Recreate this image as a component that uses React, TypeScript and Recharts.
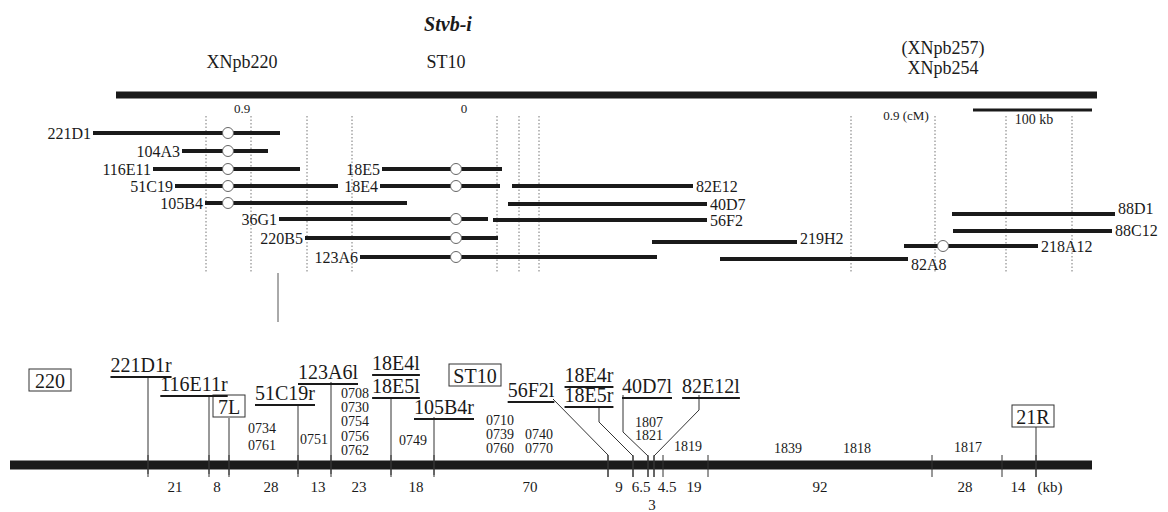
import React from "react";
import { ComposedChart, XAxis, YAxis, ReferenceLine, Scatter } from "recharts";

const W = 1168;
const H = 512;
const FONT = '"Liberation Serif", "Times New Roman", Times, serif';
const INK = "#1a1a1a";

// ---------------- genetic map (top) ----------------
const titleLabel = [{ x: 448, y: 24, label: "Stvb-i" }];
const markerLabels = [
  { x: 242, y: 62, label: "XNpb220" },
  { x: 446, y: 62, label: "ST10" },
  { x: 943, y: 48, label: "(XNpb257)" },
  { x: 943, y: 68, label: "XNpb254" },
];
const chromosome = { x1: 116, x2: 1097, y: 95 };
const cmLabels = [
  { x: 242, y: 108, label: "0.9" },
  { x: 464, y: 108, label: "0" },
  { x: 906, y: 115, label: "0.9 (cM)" },
];
const scaleBar = { x1: 973, x2: 1092, y: 110 };
const scaleLabel = [{ x: 1034, y: 119, label: "100 kb" }];
const dottedX = [206, 251, 307, 352, 497, 519, 539, 851, 935, 1006, 1072];
const dottedSpan = [116, 272];

// BAC clones of the contig
const cloneNames = ["221D1", "104A3", "116E11", "51C19", "105B4", "36G1", "220B5", "123A6", "18E5", "18E4", "82E12", "40D7", "56F2", "219H2", "82A8", "218A12", "88D1", "88C12"];
const cloneY = [133, 151, 169, 186, 203, 219, 238, 257, 169, 186, 186, 204, 220, 242, 259, 246, 214, 231];
const cloneStart = [93, 182, 153, 175, 205, 279, 305, 360, 382, 380, 512, 508, 493, 652, 720, 904, 952, 953];
const cloneEnd = [280, 268, 300, 338, 407, 488, 498, 657, 502, 500, 693, 707, 707, 797, 908, 1038, 1115, 1112];
const cloneSide = ["L", "L", "L", "L", "L", "L", "L", "L", "L", "L", "R", "R", "R", "R", "R", "R", "R", "R"];
const cloneMarker: (number | null)[] = [228, 228, 228, 228, 228, 456, 456, 456, 456, 456, null, null, null, null, null, 943, null, null];

// link between maps
const linkLine = [{ x: 278, y: 273 }, { x: 278, y: 322 }];

// ---------------- physical map (bottom) ----------------
const physBar = { x1: 10, x2: 1092, y: 465 };
const physBoundaries = [148, 209, 229, 298, 331, 391, 434, 608, 633, 648, 654, 663, 708, 932, 1002, 1036];
const kbSizes = ["21", "8", "28", "13", "23", "18", "70", "9", "6.5", "3", "4.5", "19", "92", "28", "14", "(kb)"];
const kbX = [175, 217, 271, 318, 359, 416, 530, 619, 641, 652, 667, 694, 820, 965, 1018, 1050];
const kbY = [487, 487, 487, 487, 487, 487, 487, 487, 487, 505, 487, 487, 487, 487, 487, 487];

const boxedLabels = [
  { x: 50, y: 380, label: "220" },
  { x: 229, y: 406, label: "7L" },
  { x: 475, y: 375, label: "ST10" },
  { x: 1033, y: 416, label: "21R" },
];

const endLabels = [
  { x: 141, y: 365, label: "221D1r" },
  { x: 194, y: 384, label: "116E11r" },
  { x: 285, y: 393, label: "51C19r" },
  { x: 328, y: 372, label: "123A6l" },
  { x: 396, y: 363, label: "18E4l" },
  { x: 396, y: 386, label: "18E5l" },
  { x: 444, y: 407, label: "105B4r" },
  { x: 531, y: 390, label: "56F2l" },
  { x: 589, y: 375, label: "18E4r" },
  { x: 589, y: 395, label: "18E5r" },
  { x: 647, y: 386, label: "40D7l" },
  { x: 711, y: 386, label: "82E12l" },
];

const connectors = [
  [{ x: 148, y: 376 }, { x: 148, y: 474 }],
  [{ x: 209, y: 395 }, { x: 209, y: 474 }],
  [{ x: 229, y: 418 }, { x: 229, y: 475 }],
  [{ x: 298, y: 404 }, { x: 298, y: 474 }],
  [{ x: 331, y: 382 }, { x: 331, y: 474 }],
  [{ x: 391, y: 397 }, { x: 391, y: 475 }],
  [{ x: 434, y: 417 }, { x: 434, y: 475 }],
  [{ x: 553, y: 399 }, { x: 608, y: 455 }, { x: 608, y: 477 }],
  [{ x: 599, y: 406 }, { x: 599, y: 422 }, { x: 633, y: 456 }, { x: 633, y: 477 }],
  [{ x: 623, y: 395 }, { x: 623, y: 432 }, { x: 648, y: 456 }, { x: 648, y: 477 }],
  [{ x: 699, y: 395 }, { x: 699, y: 410 }, { x: 654, y: 456 }, { x: 654, y: 477 }],
  [{ x: 1036, y: 427 }, { x: 1036, y: 477 }],
];

const locusGroups = [
  { x: 262, ys: [428, 445], ids: ["0734", "0761"] },
  { x: 314, ys: [439], ids: ["0751"] },
  { x: 355, ys: [393, 407, 421, 436, 450], ids: ["0708", "0730", "0754", "0756", "0762"] },
  { x: 413, ys: [440], ids: ["0749"] },
  { x: 500, ys: [420, 434, 448], ids: ["0710", "0739", "0760"] },
  { x: 539, ys: [434, 448], ids: ["0740", "0770"] },
  { x: 649, ys: [422, 435], ids: ["1807", "1821"] },
  { x: 688, ys: [446], ids: ["1819"] },
  { x: 788, ys: [448], ids: ["1839"] },
  { x: 857, ys: [448], ids: ["1818"] },
  { x: 968, ys: [447], ids: ["1817"] },
];

// ---------------- derived tables ----------------
const cloneLabelData = cloneNames.map((n, i) => ({
  x: cloneSide[i] === "L" ? cloneStart[i] : cloneEnd[i],
  y: cloneY[i],
  label: n,
  side: cloneSide[i],
}));
const markerData = cloneMarker
  .map((m, i) => (m === null ? null : { x: m, y: cloneY[i] }))
  .filter(Boolean) as { x: number; y: number }[];
const kbData = kbSizes.map((l, i) => ({ x: kbX[i], y: kbY[i], label: l }));
const locusData = locusGroups.flatMap((g) => g.ids.map((id, j) => ({ x: g.x, y: g.ys[j], label: id })));

const labelNudge: Record<string, number> = { "219H2": -4, "82A8": 5, "88D1": -6, "88C12": -1, "218A12": 0 };

const textShape =
  (size: number, extra: Record<string, any> = {}) =>
  (p: any) => (
    <text
      x={p.cx}
      y={p.cy}
      fontSize={size}
      fontFamily={FONT}
      textAnchor="middle"
      dominantBaseline="central"
      fill={INK}
      {...extra}
    >
      {p.payload.label}
    </text>
  );

const cloneLabelShape = (p: any) => {
  const left = p.payload.side === "L";
  const dy = labelNudge[p.payload.label] || 0;
  return (
    <text
      x={left ? p.cx - 2 : p.cx + 3}
      y={p.cy + dy}
      fontSize={16}
      fontFamily={FONT}
      textAnchor={left ? "end" : "start"}
      dominantBaseline="central"
      fill={INK}
    >
      {p.payload.label}
    </text>
  );
};

const boxShape = (p: any) => {
  const w = p.payload.label.length * 10 + 12;
  const h = 22;
  return (
    <g>
      <rect x={p.cx - w / 2} y={p.cy - h / 2} width={w} height={h} fill="#fff" stroke="#333" strokeWidth={1} />
      <text x={p.cx} y={p.cy + 1} fontSize={20} fontFamily={FONT} textAnchor="middle" dominantBaseline="central" fill={INK}>
        {p.payload.label}
      </text>
    </g>
  );
};

const markerShape = (p: any) => <circle cx={p.cx} cy={p.cy} r={5.5} fill="#fff" stroke="#666" strokeWidth={1} />;

const seg = (key: string, a: { x: number; y: number }, b: { x: number; y: number }, width: number, color = INK, dash?: string) => (
  <ReferenceLine
    key={key}
    segment={[a, b]}
    stroke={color}
    strokeWidth={width}
    strokeDasharray={dash}
    ifOverflow="visible"
  />
);

export default function App() {
  const lines: React.ReactNode[] = [];
  lines.push(seg("chrom", { x: chromosome.x1, y: chromosome.y }, { x: chromosome.x2, y: chromosome.y }, 7));
  lines.push(seg("scale", { x: scaleBar.x1, y: scaleBar.y }, { x: scaleBar.x2, y: scaleBar.y }, 3));
  dottedX.forEach((x, i) =>
    lines.push(seg("dot" + i, { x, y: dottedSpan[0] }, { x, y: dottedSpan[1] }, 1, "#777", "1.5 2"))
  );
  cloneNames.forEach((n, i) =>
    lines.push(seg("clone" + i, { x: cloneStart[i], y: cloneY[i] }, { x: cloneEnd[i], y: cloneY[i] }, 4))
  );
  lines.push(seg("link", linkLine[0], linkLine[1], 1, "#555"));
  lines.push(seg("phys", { x: physBar.x1, y: physBar.y }, { x: physBar.x2, y: physBar.y }, 9));
  physBoundaries.forEach((x, i) =>
    lines.push(seg("tick" + i, { x, y: 455 }, { x, y: 477 }, 1, "#333"))
  );
  connectors.forEach((path, i) => {
    for (let k = 0; k < path.length - 1; k++) {
      lines.push(seg("con" + i + "_" + k, path[k], path[k + 1], 1, "#333"));
    }
  });

  return (
    <div style={{ position: "absolute", left: 0, top: 0, width: W, height: H, background: "#fff" }}>
      <ComposedChart width={W} height={H} margin={{ top: 0, right: 0, bottom: 0, left: 0 }}>
        <XAxis type="number" dataKey="x" domain={[0, W]} hide allowDataOverflow />
        <YAxis type="number" dataKey="y" domain={[0, H]} reversed hide allowDataOverflow />
        {lines}
        <Scatter data={markerData} shape={markerShape} isAnimationActive={false} />
        <Scatter data={titleLabel} shape={textShape(20, { fontWeight: "bold", fontStyle: "italic" })} isAnimationActive={false} />
        <Scatter data={markerLabels} shape={textShape(18)} isAnimationActive={false} />
        <Scatter data={cmLabels} shape={textShape(13)} isAnimationActive={false} />
        <Scatter data={scaleLabel} shape={textShape(14)} isAnimationActive={false} />
        <Scatter data={cloneLabelData} shape={cloneLabelShape} isAnimationActive={false} />
        <Scatter data={boxedLabels} shape={boxShape} isAnimationActive={false} />
        <Scatter data={endLabels} shape={textShape(20, { textDecoration: "underline" })} isAnimationActive={false} />
        <Scatter data={locusData} shape={textShape(14)} isAnimationActive={false} />
        <Scatter data={kbData} shape={textShape(15)} isAnimationActive={false} />
      </ComposedChart>
    </div>
  );
}
